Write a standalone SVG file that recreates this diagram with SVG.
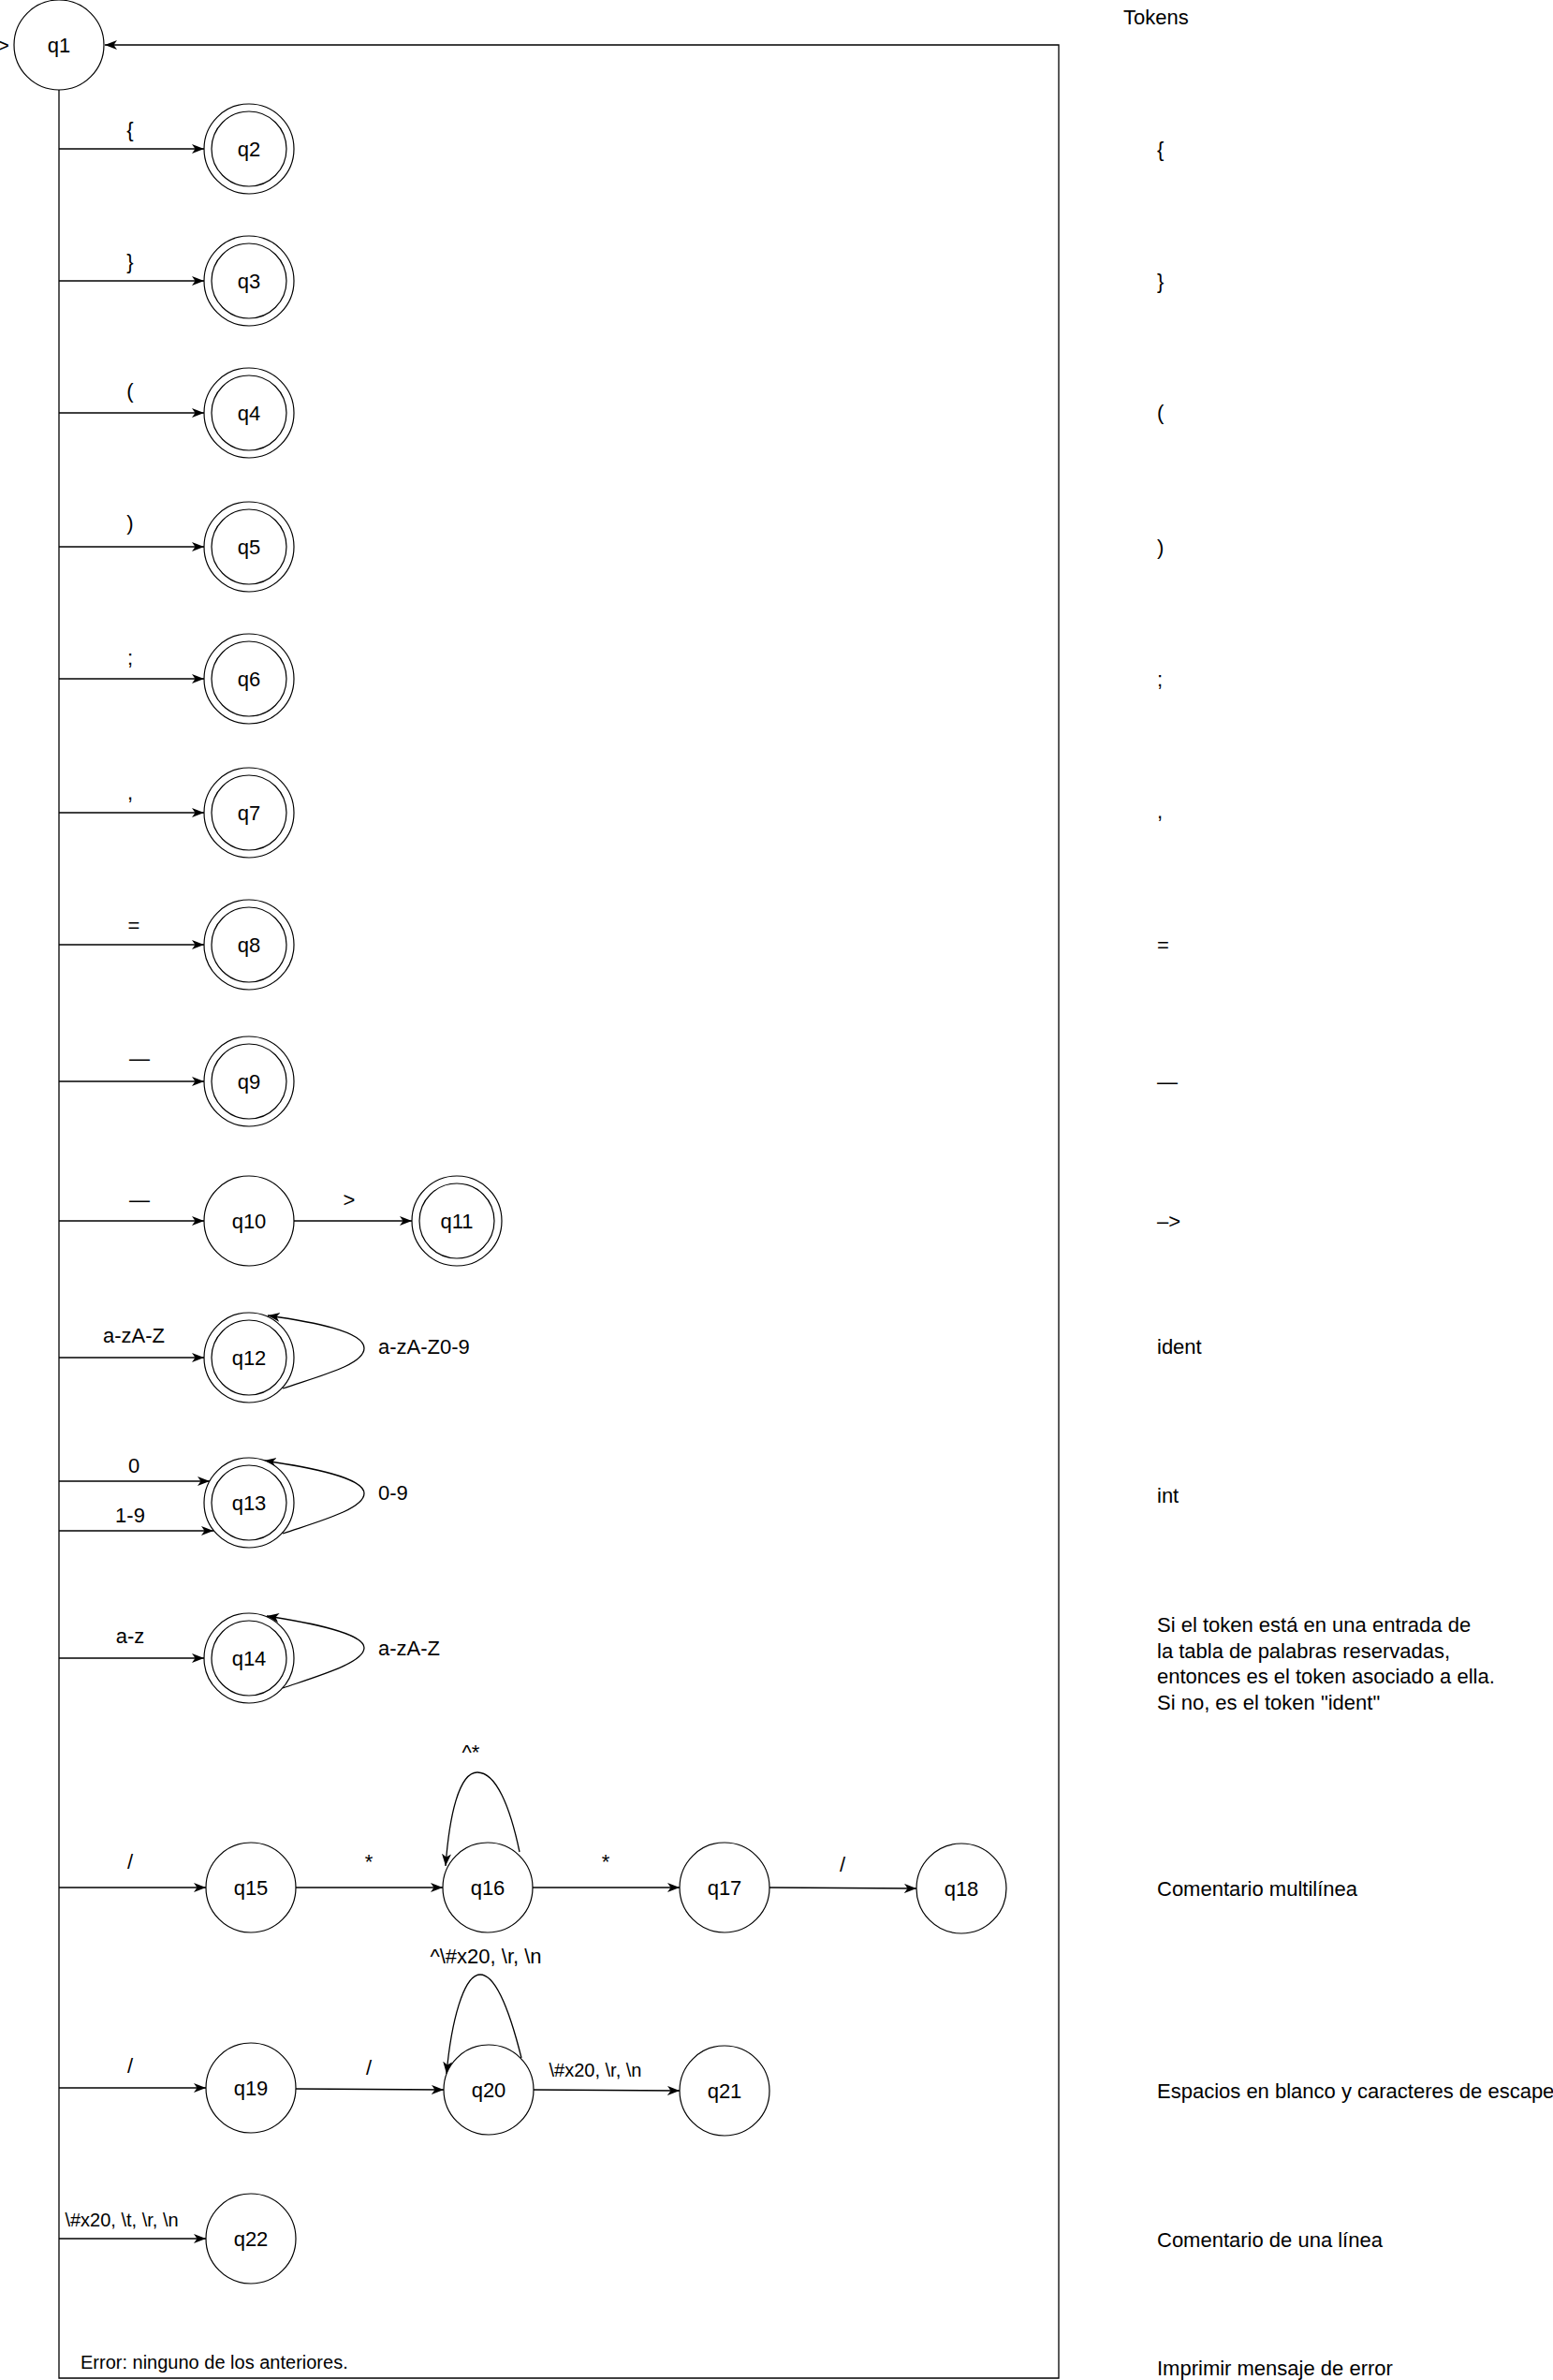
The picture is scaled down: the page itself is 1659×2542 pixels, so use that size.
<svg xmlns="http://www.w3.org/2000/svg" width="1659" height="2542" viewBox="0 0 1659 2542">
  <style>
    .st { fill: #fff; stroke: #000; stroke-width: 1.2; }
    .in { fill: none; stroke: #000; stroke-width: 1.2; }
    .edge-a { fill: none; stroke: #000; stroke-width: 1.3; marker-end: url(#arrow); }
    text { font-family: "Liberation Sans", Arial, Helvetica, sans-serif; fill: #000; }
    .lbl { font-size: 22px; text-anchor: middle; dominant-baseline: central; }
    .lbl-l { font-size: 22px; text-anchor: start; dominant-baseline: central; }
    .sm { font-size: 20px; }
    .tok { font-size: 22px; text-anchor: start; dominant-baseline: central; }
  </style>
  <defs>
    <marker id="arrow" markerUnits="userSpaceOnUse" markerWidth="14" markerHeight="11" refX="13" refY="5" orient="auto">
      <path d="M0,0 L13,5 L0,10 L3.5,5 Z" fill="#000"/>
    </marker>
  </defs>
  <rect width="1659" height="2542" fill="#fff"/>

  <!-- transitions -->
  <g id="connectors">
    <!-- start marker -->
    <text class="lbl-l" x="-3" y="48">&gt;</text>
    <!-- trunk from q1 and the error loop back to q1 -->
    <path class="edge-a" d="M63,95 L63,2540 L1131,2540 L1131,48 L112,48"/>
    <text class="lbl-l sm" x="86" y="2523">Error: ninguno de los anteriores.</text>

    <!-- single-character tokens -->
    <path class="edge-a" d="M63,159 L218,159"/>
    <text class="lbl" x="139" y="138">{</text>
    <path class="edge-a" d="M63,300 L218,300"/>
    <text class="lbl" x="139" y="279">}</text>
    <path class="edge-a" d="M63,441 L218,441"/>
    <text class="lbl" x="139" y="417">(</text>
    <path class="edge-a" d="M63,584 L218,584"/>
    <text class="lbl" x="139" y="558">)</text>
    <path class="edge-a" d="M63,725 L218,725"/>
    <text class="lbl" x="139" y="702">;</text>
    <path class="edge-a" d="M63,868 L218,868"/>
    <text class="lbl" x="139" y="846">,</text>
    <path class="edge-a" d="M63,1009 L218,1009"/>
    <text class="lbl" x="143" y="988">=</text>
    <path class="edge-a" d="M63,1155 L218,1155"/>
    <text class="lbl" x="149" y="1130">—</text>

    <!-- arrow token -->
    <path class="edge-a" d="M63,1304 L218,1304"/>
    <text class="lbl" x="149" y="1281">—</text>
    <path class="edge-a" d="M314,1304 L440,1304"/>
    <text class="lbl" x="373" y="1281">&gt;</text>

    <!-- identifiers -->
    <path class="edge-a" d="M63,1450 L218,1450"/>
    <text class="lbl" x="143" y="1426">a-zA-Z</text>
    <path class="edge-a" d="M302,1483 C340,1470 389,1458 389,1440 C389,1422 335,1412 286,1405"/>
    <text class="lbl-l" x="404" y="1438">a-zA-Z0-9</text>

    <!-- integers -->
    <path class="edge-a" d="M63,1582 L224,1582"/>
    <text class="lbl" x="143" y="1565">0</text>
    <path class="edge-a" d="M63,1635 L228,1635"/>
    <text class="lbl" x="139" y="1618">1-9</text>
    <path class="edge-a" d="M302,1638 C340,1625 389,1612 389,1595 C389,1578 330,1567 282,1560"/>
    <text class="lbl-l" x="404" y="1594">0-9</text>

    <!-- reserved words -->
    <path class="edge-a" d="M63,1771 L218,1771"/>
    <text class="lbl" x="139" y="1747">a-z</text>
    <path class="edge-a" d="M302,1803 C340,1790 389,1776 389,1760 C389,1744 330,1733 285,1726"/>
    <text class="lbl-l" x="404" y="1760">a-zA-Z</text>

    <!-- multi-line comment -->
    <path class="edge-a" d="M63,2016 L220,2016"/>
    <text class="lbl" x="139" y="1988">/</text>
    <path class="edge-a" d="M316,2016 L473,2016"/>
    <text class="lbl" x="394" y="1988">*</text>
    <path class="edge-a" d="M555,1978 C545,1930 530,1893 510,1893 C490,1893 480,1940 476,1993"/>
    <text class="lbl" x="503" y="1871">^*</text>
    <path class="edge-a" d="M569,2016 L726,2016"/>
    <text class="lbl" x="647" y="1988">*</text>
    <path class="edge-a" d="M822,2016 L979,2017"/>
    <text class="lbl" x="900" y="1991">/</text>

    <!-- single-line comment -->
    <path class="edge-a" d="M63,2230 L220,2230"/>
    <text class="lbl" x="139" y="2206">/</text>
    <path class="edge-a" d="M316,2231 L474,2232"/>
    <text class="lbl" x="394" y="2208">/</text>
    <path class="edge-a" d="M557,2198 C545,2150 530,2109 513,2109 C495,2109 482,2160 477,2215"/>
    <text class="lbl" x="519" y="2089">^\#x20, \r, \n</text>
    <path class="edge-a" d="M570,2232 L726,2233"/>
    <text class="lbl sm" x="636" y="2211">\#x20, \r, \n</text>

    <!-- whitespace -->
    <path class="edge-a" d="M63,2391 L220,2391"/>
    <text class="lbl sm" x="130" y="2371">\#x20, \t, \r, \n</text>
  </g>

  <!-- states -->
  <g id="q1"><circle class="st" cx="63" cy="48" r="48"/><text class="lbl" x="63" y="48">q1</text></g>
  <g id="q2"><circle class="st" cx="266" cy="159" r="48"/><circle class="in" cx="266" cy="159" r="40"/><text class="lbl" x="266" y="159">q2</text></g>
  <g id="q3"><circle class="st" cx="266" cy="300" r="48"/><circle class="in" cx="266" cy="300" r="40"/><text class="lbl" x="266" y="300">q3</text></g>
  <g id="q4"><circle class="st" cx="266" cy="441" r="48"/><circle class="in" cx="266" cy="441" r="40"/><text class="lbl" x="266" y="441">q4</text></g>
  <g id="q5"><circle class="st" cx="266" cy="584" r="48"/><circle class="in" cx="266" cy="584" r="40"/><text class="lbl" x="266" y="584">q5</text></g>
  <g id="q6"><circle class="st" cx="266" cy="725" r="48"/><circle class="in" cx="266" cy="725" r="40"/><text class="lbl" x="266" y="725">q6</text></g>
  <g id="q7"><circle class="st" cx="266" cy="868" r="48"/><circle class="in" cx="266" cy="868" r="40"/><text class="lbl" x="266" y="868">q7</text></g>
  <g id="q8"><circle class="st" cx="266" cy="1009" r="48"/><circle class="in" cx="266" cy="1009" r="40"/><text class="lbl" x="266" y="1009">q8</text></g>
  <g id="q9"><circle class="st" cx="266" cy="1155" r="48"/><circle class="in" cx="266" cy="1155" r="40"/><text class="lbl" x="266" y="1155">q9</text></g>
  <g id="q10"><circle class="st" cx="266" cy="1304" r="48"/><text class="lbl" x="266" y="1304">q10</text></g>
  <g id="q11"><circle class="st" cx="488" cy="1304" r="48"/><circle class="in" cx="488" cy="1304" r="40"/><text class="lbl" x="488" y="1304">q11</text></g>
  <g id="q12"><circle class="st" cx="266" cy="1450" r="48"/><circle class="in" cx="266" cy="1450" r="40"/><text class="lbl" x="266" y="1450">q12</text></g>
  <g id="q13"><circle class="st" cx="266" cy="1605" r="48"/><circle class="in" cx="266" cy="1605" r="40"/><text class="lbl" x="266" y="1605">q13</text></g>
  <g id="q14"><circle class="st" cx="266" cy="1771" r="48"/><circle class="in" cx="266" cy="1771" r="40"/><text class="lbl" x="266" y="1771">q14</text></g>
  <g id="q15"><circle class="st" cx="268" cy="2016" r="48"/><text class="lbl" x="268" y="2016">q15</text></g>
  <g id="q16"><circle class="st" cx="521" cy="2016" r="48"/><text class="lbl" x="521" y="2016">q16</text></g>
  <g id="q17"><circle class="st" cx="774" cy="2016" r="48"/><text class="lbl" x="774" y="2016">q17</text></g>
  <g id="q18"><circle class="st" cx="1027" cy="2017" r="48"/><text class="lbl" x="1027" y="2017">q18</text></g>
  <g id="q19"><circle class="st" cx="268" cy="2230" r="48"/><text class="lbl" x="268" y="2230">q19</text></g>
  <g id="q20"><circle class="st" cx="522" cy="2232" r="48"/><text class="lbl" x="522" y="2232">q20</text></g>
  <g id="q21"><circle class="st" cx="774" cy="2233" r="48"/><text class="lbl" x="774" y="2233">q21</text></g>
  <g id="q22"><circle class="st" cx="268" cy="2391" r="48"/><text class="lbl" x="268" y="2391">q22</text></g>

  <!-- token table -->
  <g id="tokens">
    <text class="tok" x="1200" y="18">Tokens</text>
    <text class="tok" x="1236" y="159">{</text>
    <text class="tok" x="1236" y="300">}</text>
    <text class="tok" x="1236" y="440">(</text>
    <text class="tok" x="1236" y="584">)</text>
    <text class="tok" x="1236" y="725">;</text>
    <text class="tok" x="1236" y="866">,</text>
    <text class="tok" x="1236" y="1009">=</text>
    <text class="tok" x="1236" y="1155">—</text>
    <text class="tok" x="1236" y="1304">–&gt;</text>
    <text class="tok" x="1236" y="1438">ident</text>
    <text class="tok" x="1236" y="1597">int</text>
    <text class="tok" x="1236" y="1735">Si el token está en una entrada de</text>
    <text class="tok" x="1236" y="1763">la tabla de palabras reservadas,</text>
    <text class="tok" x="1236" y="1790">entonces es el token asociado a ella.</text>
    <text class="tok" x="1236" y="1818">Si no, es el token "ident"</text>
    <text class="tok" x="1236" y="2017">Comentario multilínea</text>
    <text class="tok" x="1236" y="2233">Espacios en blanco y caracteres de escape</text>
    <text class="tok" x="1236" y="2392">Comentario de una línea</text>
    <text class="tok" x="1236" y="2529">Imprimir mensaje de error</text>
  </g>
</svg>
